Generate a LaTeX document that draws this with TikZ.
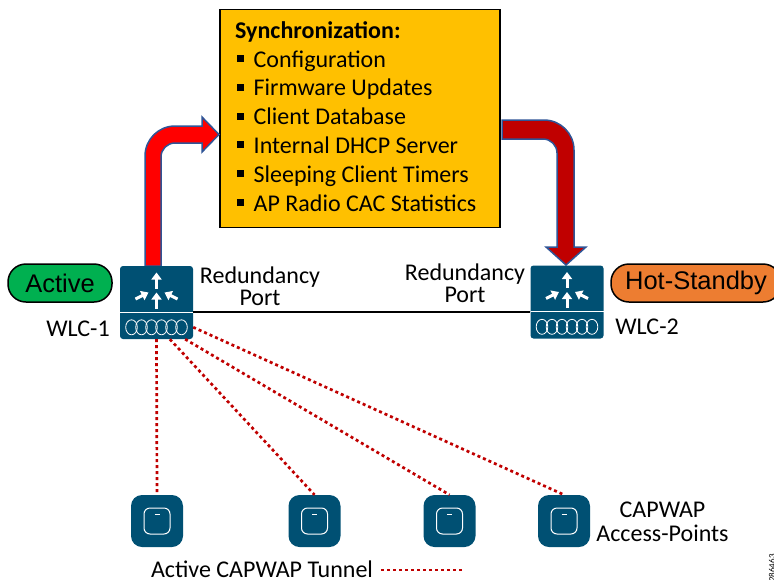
\documentclass[tikz,border=0pt]{standalone}
\usepackage{fontspec}
\setmainfont{Carlito}
\newfontfamily\pillfont{Liberation Sans}
\usetikzlibrary{arrows.meta}
\definecolor{ciscoblue}{RGB}{0,80,115}
\definecolor{syncyellow}{RGB}{255,192,0}
\definecolor{activegreen}{RGB}{0,176,80}
\definecolor{standbyorange}{RGB}{237,125,49}
\definecolor{arrowedge}{RGB}{47,85,151}
\definecolor{darkred}{RGB}{192,0,0}
\tikzset{
  wlc/.style={fill=ciscoblue,rounded corners=3pt,minimum size=73pt,inner sep=0pt},
  accesspoint/.style={fill=ciscoblue,rounded corners=11pt,minimum size=52pt,inner sep=0pt},
  statepill/.style={draw=black,line width=1.5pt,rounded corners=18pt,minimum height=38pt,inner sep=0pt,font=\pillfont\fontsize{25.5}{26}\selectfont},
  lbl/.style={font=\fontsize{24}{22}\selectfont,align=center,inner sep=0pt},
  tunnel/.style={draw=darkred,line width=2.7pt,dash pattern=on 3pt off 3pt},
  syncitem/.style={font=\fontsize{24}{24}\selectfont,anchor=base west,inner sep=0pt},
  bullet/.style={fill=black,minimum size=7pt,inner sep=0pt},
  bigarrow/.style={draw=arrowedge,line width=1.5pt,line join=miter},
  whitearrow/.style={white,line width=3pt,-{Triangle[length=7pt,width=10pt]}}
}
\begin{document}
\begin{tikzpicture}[x=1pt,y=-1pt]
  \useasboundingbox (0,0) rectangle (774,579);
  % sync box
  \node [draw=black,line width=1.2pt,fill=syncyellow,minimum width=280pt,minimum height=218pt,inner sep=0pt] (syncbox) at (360,118.5) {};
  \node [syncitem,font=\fontsize{24}{24}\selectfont\bfseries] (synctitle) at (235,38) {Synchronization:};
  \foreach \i/\t in {0/Configuration,1/Firmware Updates,2/Client Database,3/Internal DHCP Server,4/Sleeping Client Timers,5/AP Radio CAC Statistics}{
    \node [bullet] (bullet\i) at (240.5,{58.5+28.8*\i}) {};
    \node [syncitem] (item\i) at (253.5,{67+28.8*\i}) {\t};
  }
  % big arrows
  \draw [bigarrow,fill=red] (145,266) [rounded corners=30pt] -- (145,126) [sharp corners] -- (202,126) -- (202,117) -- (219,134.5) -- (202,152) -- (202,143) [rounded corners=14pt] -- (161,143) [sharp corners] -- (161,266) -- cycle;
  \draw [bigarrow,fill=darkred] (502,120) [rounded corners=30pt] -- (574,120) [sharp corners] -- (574,247) -- (586,247) -- (566,265) -- (546,247) -- (557,247) [rounded corners=14pt] -- (557,139) [sharp corners] -- (502,139) -- cycle;
  % controllers
  \node [wlc] (wlc1) at (156.5,302.5) {};
  \node [wlc] (wlc2) at (567,302) {};
  \foreach \n in {wlc1,wlc2}{
    \begin{scope}[shift={(\n.center)}]
      \draw [white,line width=1pt] (-36.5,9.5) -- (36.5,9.5);
      \draw [whitearrow] (0,-14) -- (0,-30);
      \draw [whitearrow] (0,6) -- (0,-10);
      \draw [whitearrow] (-21,-3.5) -- (-8,-10);
      \draw [whitearrow] (21,-3.5) -- (8,-10);
      \foreach \x in {-25,-15,-5,5,15,25}{
        \draw [white,line width=.8pt] (\x,24.8) circle [x radius=5.8,y radius=7.5];
      }
    \end{scope}
  }
  % state labels
  \node [statepill,fill=activegreen,minimum width=104pt] (active) at (60,283) {Active};
  \node [statepill,fill=standbyorange,minimum width=170pt] (standby) at (696,283) {Hot-Standby};
  \node [lbl] (wlclabel1) at (78,329) {WLC-1};
  \node [lbl] (wlclabel2) at (647,327) {WLC-2};
  \node [lbl] (portlabel1) at (260,286) {Redundancy\\Port};
  \node [lbl] (portlabel2) at (465,283) {Redundancy\\Port};
  \draw [line width=2.5pt] (wlc1.east |- 0,312) -- (wlc2.west |- 0,312);
  % access points
  \foreach \n/\x in {ap1/157,ap2/314.5,ap3/449.5,ap4/564}{
    \node [accesspoint] (\n) at (\x,521) {};
    \draw [white,line width=1pt,rounded corners=6pt] (\x-13,508) rectangle (\x+13,534);
    \draw [white,line width=1pt] (\x-2.5,514) -- (\x+2.5,514);
  }
  \draw [tunnel] (wlc1.south) -- (ap1.north);
  \draw [tunnel] (wlc1.-70) -- (ap2.north);
  \draw [tunnel] (wlc1.-52) -- (ap3.north);
  \draw [tunnel] (wlc1.-34) -- (ap4.north);
  \node [lbl,font=\fontsize{24}{24}\selectfont] (aplabel) at (662.5,522) {CAPWAP\\Access-Points};
  % legend
  \node [lbl] (legend) at (262,569) {Active CAPWAP Tunnel};
  \coordinate (legendend) at (462,570);
  \draw [tunnel] (legend.east |- legendend) ++(8,0) -- (legendend);
  \node [rotate=90,font=\fontsize{9}{9}\selectfont,inner sep=0pt,anchor=base west] (figid) at (775,582) {286463};
\end{tikzpicture}
\end{document}
